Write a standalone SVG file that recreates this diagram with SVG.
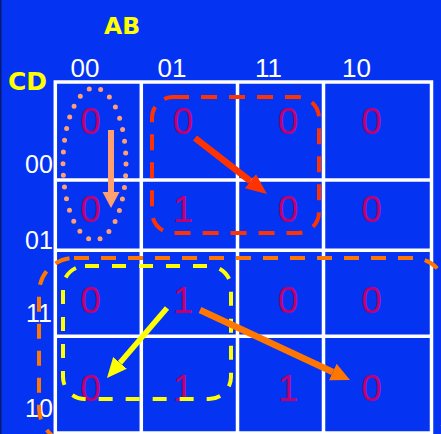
<svg xmlns="http://www.w3.org/2000/svg" width="441" height="434" viewBox="0 0 441 434">
<style>
.grid{fill:none;stroke:#ffffff;stroke-width:3.5}
.lab{font-family:"Liberation Sans",Arial,sans-serif;fill:#ffffff;text-anchor:middle}
.var{font-family:"DejaVu Sans","Liberation Sans",sans-serif;font-weight:bold;fill:#ffff00}
.val{font-family:"Liberation Sans",Arial,sans-serif;font-size:37px;fill:#c00070;text-anchor:middle}
.grp{fill:none;stroke-width:4}
</style>
<defs>
<marker id="hRed" markerUnits="userSpaceOnUse" markerWidth="24" markerHeight="24" refX="0" refY="10" orient="auto" viewBox="0 0 24 20"><path d="M0,1 L21,10 L0,19 z" fill="#ff3300"/></marker>
<marker id="hPeach" markerUnits="userSpaceOnUse" markerWidth="20" markerHeight="20" refX="0" refY="8.5" orient="auto" viewBox="0 0 20 17"><path d="M0,0 L16,8.5 L0,17 z" fill="#ffa070"/></marker>
<marker id="hYel" markerUnits="userSpaceOnUse" markerWidth="24" markerHeight="24" refX="0" refY="10" orient="auto" viewBox="0 0 24 20"><path d="M0,1 L20,10 L0,19 z" fill="#ffff00"/></marker>
<marker id="hOr" markerUnits="userSpaceOnUse" markerWidth="24" markerHeight="24" refX="0" refY="10" orient="auto" viewBox="0 0 24 20"><path d="M0,1 L19,10 L0,19 z" fill="#ff7700"/></marker>
</defs>
<rect x="0" y="0" width="441" height="434" fill="#0533f2"/>
<rect x="0" y="0" width="1.5" height="434" fill="#0a1a70"/>
<g id="grid">
<rect class="grid" x="55.3" y="82" width="376.2" height="351"/>
<line class="grid" x1="141.3" y1="82" x2="141.3" y2="434"/>
<line class="grid" x1="237.5" y1="82" x2="237.5" y2="434"/>
<line class="grid" x1="323.5" y1="82" x2="323.5" y2="434"/>
<line class="grid" x1="55.3" y1="180" x2="431.5" y2="180"/>
<line class="grid" x1="55.3" y1="250.3" x2="431.5" y2="250.3"/>
<line class="grid" x1="55.3" y1="336.3" x2="431.5" y2="336.3"/>
</g>
<g id="labels">
<text class="var" x="104" y="33.5" font-size="23.5">AB</text>
<text class="var" x="8" y="90" font-size="25">CD</text>
<text class="lab" x="85" y="77" font-size="26">00</text>
<text class="lab" x="172" y="77" font-size="26">01</text>
<text class="lab" x="268.5" y="77" font-size="26">11</text>
<text class="lab" x="356.5" y="77" font-size="26">10</text>
<text class="lab" x="39" y="173" font-size="25">00</text>
<text class="lab" x="39" y="249" font-size="25">01</text>
<text class="lab" x="39" y="322" font-size="25">11</text>
<text class="lab" x="39" y="417" font-size="25">10</text>
</g>
<g id="values">
<text class="val" x="90.5" y="134">0</text>
<text class="val" x="183" y="134">0</text>
<text class="val" x="288" y="134">0</text>
<text class="val" x="371.5" y="134">0</text>
<text class="val" x="90.5" y="222">0</text>
<text class="val" x="183" y="222">1</text>
<text class="val" x="288" y="222">0</text>
<text class="val" x="371.5" y="222">0</text>
<text class="val" x="90.5" y="313">0</text>
<text class="val" x="183" y="313">1</text>
<text class="val" x="288" y="313">0</text>
<text class="val" x="371.5" y="313">0</text>
<text class="val" x="90.5" y="401">0</text>
<text class="val" x="183" y="401">1</text>
<text class="val" x="288" y="401">1</text>
<text class="val" x="371.5" y="401">0</text>
</g>
<g id="groups">
<ellipse id="grp-peach" cx="94.5" cy="164" rx="31.5" ry="76" fill="none" stroke="#ffa070" stroke-width="5" stroke-linecap="round" stroke-dasharray="0 11.75"/>
<rect id="grp-red" class="grp" x="152" y="97" width="167" height="136" rx="21" stroke="#ff3300" stroke-dasharray="16 12"/>
<rect id="grp-orange" class="grp" x="39" y="258" width="408.5" height="185" rx="35" stroke="#ff7700" stroke-dasharray="15 12"/>
<rect id="grp-yellow" class="grp" x="63" y="266" width="168" height="133" rx="22" stroke="#ffff00" stroke-dasharray="14 13"/>
</g>
<g id="connectors">
<line x1="111" y1="130" x2="111" y2="192" stroke="#ffa070" stroke-width="6" marker-end="url(#hPeach)"/>
<line x1="195" y1="138" x2="250.4" y2="181.1" stroke="#ff3300" stroke-width="6.5" marker-end="url(#hRed)"/>
<line x1="167" y1="308" x2="120" y2="362.8" stroke="#ffff00" stroke-width="5.5" marker-end="url(#hYel)"/>
<line x1="200" y1="310" x2="332.8" y2="372" stroke="#ff7700" stroke-width="6.5" marker-end="url(#hOr)"/>
</g>
</svg>
